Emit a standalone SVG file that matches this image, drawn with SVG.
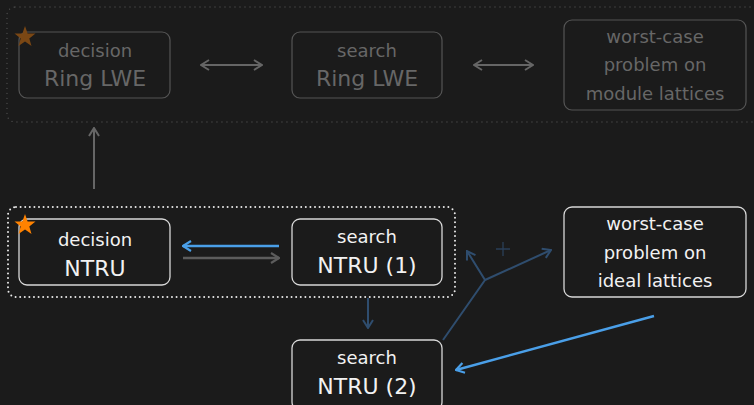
<svg xmlns="http://www.w3.org/2000/svg" width="754" height="405" viewBox="0 0 754 405">
<style>
text{font-family:"DejaVu Sans","Liberation Sans",sans-serif;text-anchor:middle}
.fbox{fill:none;stroke:#555;stroke-width:1.2}
.ftxt{fill:#676767}
.box{fill:none;stroke:#d8d8d8;stroke-width:1.3}
.txt{fill:#f2f2f2}
.s18{font-size:18px}
.s21{font-size:22px}
</style>
<defs>
<marker id="ag" viewBox="0 0 12 12" refX="11" refY="6" markerWidth="12" markerHeight="12" markerUnits="userSpaceOnUse" orient="auto-start-reverse"><path d="M3,1 L11,6 L3,11" fill="none" stroke="#666" stroke-width="2"/></marker>
<marker id="ag2" viewBox="0 0 12 12" refX="11" refY="6" markerWidth="12" markerHeight="12" markerUnits="userSpaceOnUse" orient="auto-start-reverse"><path d="M3,1 L11,6 L3,11" fill="none" stroke="#5c5c5c" stroke-width="2.2"/></marker>
<marker id="ab" viewBox="0 0 12 12" refX="11" refY="6" markerWidth="12" markerHeight="12" markerUnits="userSpaceOnUse" orient="auto"><path d="M3,1 L11,6 L3,11" fill="none" stroke="#4a9fe8" stroke-width="2.2"/></marker>
<marker id="ad" viewBox="0 0 12 12" refX="11" refY="6" markerWidth="12" markerHeight="12" markerUnits="userSpaceOnUse" orient="auto"><path d="M3,1 L11,6 L3,11" fill="none" stroke="#2f4d6e" stroke-width="2"/></marker>
<path id="star" d="M0,-11 L2.6,-3.6 L10.5,-3.4 L4.3,1.4 L6.5,8.9 L0,4.5 L-6.5,8.9 L-4.3,1.4 L-10.5,-3.4 L-2.6,-3.6 Z"/>
</defs>
<rect width="754" height="405" fill="#1b1b1b"/>

<rect x="7" y="7" width="770" height="115" rx="8" fill="none" stroke="#4e4e4e" stroke-width="1.3" stroke-dasharray="0 5" stroke-linecap="round"/>
<rect x="8" y="207" width="447" height="90" rx="8" fill="none" stroke="#e8e8e8" stroke-width="2" stroke-dasharray="0 4.6" stroke-linecap="round"/>

<g id="n-decision-rlwe">
<rect class="fbox" x="19" y="32" width="151" height="66" rx="8"/>
<text class="ftxt s18" x="95" y="57">decision</text>
<text class="ftxt s21" x="95" y="86">Ring LWE</text>
<use href="#star" x="25" y="37" fill="#7a4714"/>
</g>
<g id="n-search-rlwe">
<rect class="fbox" x="292" y="32" width="150" height="66" rx="8"/>
<text class="ftxt s18" x="367" y="57">search</text>
<text class="ftxt s21" x="367" y="86">Ring LWE</text>
</g>
<g id="n-worst-module">
<rect class="fbox" x="564" y="20" width="182" height="90" rx="8"/>
<text class="ftxt s18" x="655" y="43">worst-case</text>
<text class="ftxt s18" x="655" y="71">problem on</text>
<text class="ftxt s18" x="655" y="100">module lattices</text>
</g>

<g id="n-decision-ntru">
<rect class="box" x="19" y="219" width="151" height="66" rx="8"/>
<text class="txt s18" x="95" y="246">decision</text>
<text class="txt s21" x="95" y="276">NTRU</text>
<use href="#star" x="25" y="225" fill="#ff8200"/>
</g>
<g id="n-search-ntru1">
<rect class="box" x="292" y="219" width="150" height="66" rx="8"/>
<text class="txt s18" x="367" y="243">search</text>
<text class="txt s21" x="367" y="273">NTRU (1)</text>
</g>
<g id="n-worst-ideal">
<rect class="box" x="564" y="207" width="182" height="90" rx="8"/>
<text class="txt s18" x="655" y="230">worst-case</text>
<text class="txt s18" x="655" y="259">problem on</text>
<text class="txt s18" x="655" y="287">ideal lattices</text>
</g>
<g id="n-search-ntru2">
<rect class="box" x="292" y="340" width="150" height="70" rx="8"/>
<text class="txt s18" x="367" y="364">search</text>
<text class="txt s21" x="367" y="394">NTRU (2)</text>
</g>

<g id="connectors" fill="none">
<line x1="201" y1="65" x2="262" y2="65" stroke="#666" stroke-width="2" marker-start="url(#ag)" marker-end="url(#ag)"/>
<line x1="474" y1="65" x2="533" y2="65" stroke="#666" stroke-width="2" marker-start="url(#ag)" marker-end="url(#ag)"/>
<line x1="94" y1="189" x2="94" y2="128" stroke="#666" stroke-width="2" marker-end="url(#ag)"/>
<line x1="279" y1="246" x2="183" y2="246" stroke="#4a9fe8" stroke-width="2.4" marker-end="url(#ab)"/>
<line x1="183" y1="258" x2="279" y2="258" stroke="#5c5c5c" stroke-width="2.4" marker-end="url(#ag2)"/>
<line x1="368" y1="298" x2="368" y2="328" stroke="#2f4d6e" stroke-width="2" marker-end="url(#ad)"/>
<polyline points="443,340 485,280 467,251" stroke="#2f4d6e" stroke-width="2" marker-end="url(#ad)"/>
<line x1="485" y1="280" x2="551" y2="250" stroke="#2f4d6e" stroke-width="2" marker-end="url(#ad)"/>
<line x1="654" y1="316" x2="456" y2="370" stroke="#4a9fe8" stroke-width="2.4" marker-end="url(#ab)"/>
<path d="M503,242 V256 M496,249 H510" stroke="#2a3f58" stroke-width="1.3"/>
</g>
</svg>
